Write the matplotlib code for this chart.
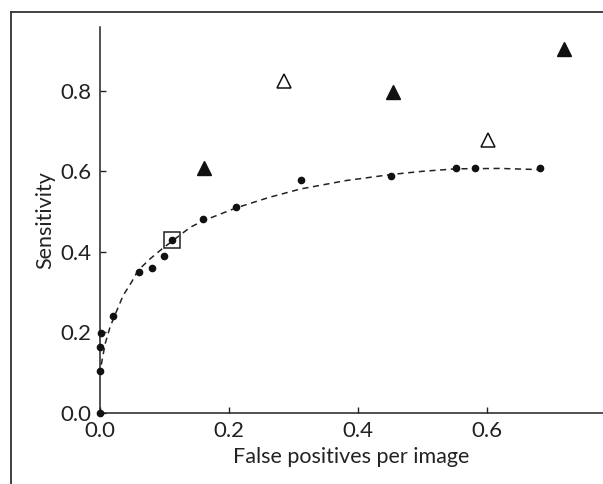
import matplotlib
matplotlib.use('Agg')
import matplotlib.pyplot as plt

plt.rcParams['font.family'] = ['Lato', 'DejaVu Sans']

# operating points (filled circles)
fp = [0.0, 0.0, 0.0, 0.001, 0.020, 0.060, 0.081, 0.100, 0.112, 0.160,
      0.211, 0.311, 0.452, 0.552, 0.582, 0.683]
sens = [0.0, 0.103, 0.163, 0.199, 0.240, 0.351, 0.360, 0.390, 0.430, 0.481,
        0.511, 0.579, 0.589, 0.609, 0.609, 0.609]

# fitted curve
curve_x = [0.002, 0.008, 0.0155, 0.026, 0.036, 0.049, 0.059, 0.078, 0.096, 0.113,
           0.140, 0.160, 0.211, 0.262, 0.311, 0.382, 0.452, 0.501, 0.552, 0.620, 0.683]
curve_y = [0.120, 0.172, 0.213, 0.254, 0.292, 0.325, 0.354, 0.383, 0.407, 0.428,
           0.461, 0.477, 0.509, 0.535, 0.556, 0.577, 0.592, 0.600, 0.606, 0.607, 0.604]

# highlighted point
sq_x = [0.112]
sq_y = [0.430]

# other systems
filled_tri_x = [0.162, 0.454, 0.720]
filled_tri_y = [0.607, 0.796, 0.903]
open_tri_x = [0.286, 0.602]
open_tri_y = [0.825, 0.678]

fig = plt.figure(figsize=(6.03, 4.84), dpi=100)
ax = fig.add_axes([100/603, 71/484, 503/603, 386/484])

ax.plot(curve_x, curve_y, color='#222222', lw=1.1, ls=(0, (4, 3)))
ax.plot(fp, sens, 'o', color='#111111', ms=4.5, clip_on=False, zorder=3)
ax.plot(sq_x, sq_y, 's', mfc='none', mec='#222222', ms=11, mew=1.1)
ax.plot(filled_tri_x, filled_tri_y, '^', color='#111111', ms=10, clip_on=False)
ax.plot(open_tri_x, open_tri_y, '^', mfc='white', mec='#111111', ms=10, mew=1.1)

ax.set_xlim(0, 0.78)
ax.set_ylim(0, 0.958)
ax.set_xticks([0.0, 0.2, 0.4, 0.6])
ax.set_yticks([0.0, 0.2, 0.4, 0.6, 0.8])
ax.set_xticklabels(['0.0', '0.2', '0.4', '0.6'])
ax.set_yticklabels(['0.0', '0.2', '0.4', '0.6', '0.8'])
ax.tick_params(direction='in', length=4, width=1, labelsize=16, colors='#222222', pad=6)

ax.spines['top'].set_visible(False)
ax.spines['right'].set_visible(False)
for s in ['left', 'bottom']:
    ax.spines[s].set_linewidth(1.1)
    ax.spines[s].set_color('#222222')

ax.set_xlabel('False positives per image', fontsize=15.5, color='#222222', labelpad=4)
ax.set_ylabel('Sensitivity', fontsize=15.5, color='#222222', labelpad=4)

# outer frame (left and top visible)
fig.add_artist(plt.Line2D([11/603, 11/603], [0, 1 - 12/484], color='#333333', lw=1.3))
fig.add_artist(plt.Line2D([11/603, 1], [1 - 12/484, 1 - 12/484], color='#333333', lw=1.3))

fig.savefig('out.png', dpi=100)
